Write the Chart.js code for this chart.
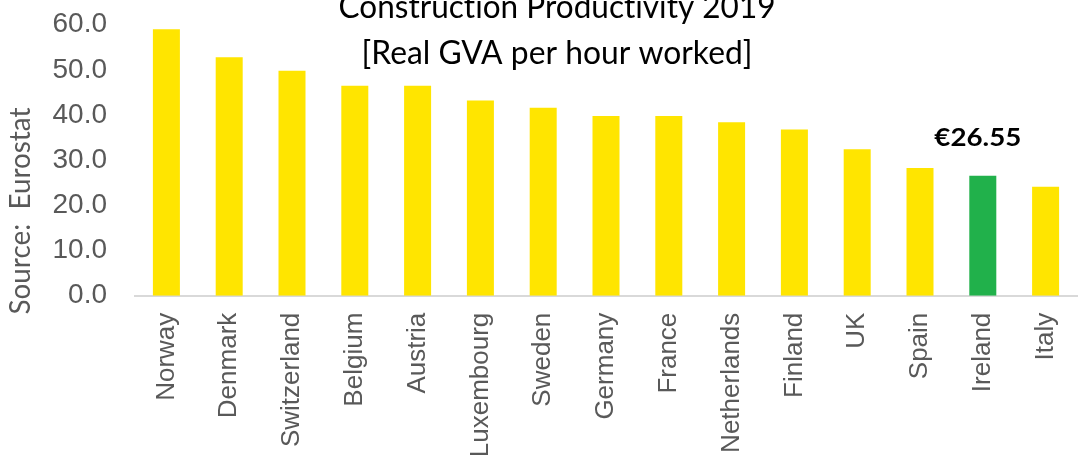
<!DOCTYPE html>
<html>
<head>
<meta charset="utf-8">
<script src="https://cdn.jsdelivr.net/npm/chart.js@4"></script>
<style>
  html, body { margin: 0; padding: 0; background: #ffffff; }
  #wrap { width: 1088px; height: 462px; position: relative; overflow: hidden; }
</style>
</head>
<body>
<div id="wrap"><canvas id="c" width="1088" height="462"></canvas></div>
<script>
// ---- data ----
const categories = ["Norway","Denmark","Switzerland","Belgium","Austria","Luxembourg","Sweden","Germany","France","Netherlands","Finland","UK","Spain","Ireland","Italy"];
const productivity = [59.0, 52.8, 49.8, 46.5, 46.5, 43.2, 41.6, 39.8, 39.8, 38.4, 36.8, 32.4, 28.3, 26.55, 24.1];
const highlightCategory = "Ireland";
const highlightLabel = "€26.55";
const yTickValues = [0, 10, 20, 30, 40, 50, 60];
const titleLines = ["Construction Productivity 2019", "[Real GVA per hour worked]"];
const yAxisTitle = "Source:  Eurostat";

// ---- styles ----
const YELLOW = "#FFE500";
const GREEN = "#21B14B";
const GREY_TEXT = "#595959";
const HUMANIST = "Lato, 'Open Sans', 'Noto Sans', sans-serif";

// draw text at a given font size, horizontally scaled to a target width
function drawFitted(ctx, text, weight, size, family, targetWidth, x, y) {
  ctx.font = weight + " " + size + "px " + family;
  try { ctx.letterSpacing = "0.01px"; } catch (e) {}
  const w = ctx.measureText(text).width;
  const sx = targetWidth / w;
  ctx.save();
  ctx.translate(x, y);
  ctx.scale(sx, 1);
  ctx.fillText(text, 0, 0);
  ctx.restore();
}

const annotationsPlugin = {
  id: "annotations",
  afterDraw(chart) {
    const ctx = chart.ctx;
    ctx.save();
    // Title
    ctx.fillStyle = "#000000";
    ctx.textAlign = "center";
    ctx.textBaseline = "alphabetic";
    drawFitted(ctx, titleLines[0], "400", 33, HUMANIST, 437, 557, 18);
    drawFitted(ctx, titleLines[1], "400", 33, HUMANIST, 391, 557, 64);

    // Y axis title (rotated)
    ctx.save();
    ctx.translate(30, 211);
    ctx.rotate(-Math.PI / 2);
    ctx.fillStyle = GREY_TEXT;
    drawFitted(ctx, yAxisTitle, "400", 28, HUMANIST, 207, 0, 0);
    ctx.restore();

    // Highlight data label
    const idx = categories.indexOf(highlightCategory);
    const el = chart.getDatasetMeta(0).data[idx];
    if (el) {
      ctx.fillStyle = "#000000";
      drawFitted(ctx, highlightLabel, "700", 24, HUMANIST, 87, el.x - 5, el.y - 30);
    }
    ctx.restore();
  }
};

new Chart(document.getElementById("c"), {
  type: "bar",
  data: {
    labels: categories,
    datasets: [{
      data: productivity,
      backgroundColor: categories.map(c => c === highlightCategory ? GREEN : YELLOW),
      borderWidth: 0,
      categoryPercentage: 1.0,
      barPercentage: 0.43
    }]
  },
  options: {
    responsive: false,
    animation: false,
    devicePixelRatio: 1,
    layout: { padding: { top: 24.7, right: 11, bottom: 0, left: 0 } },
    plugins: {
      legend: { display: false },
      title: { display: false },
      tooltip: { enabled: false }
    },
    scales: {
      x: {
        grid: { display: false, drawTicks: false },
        border: { display: true, color: "#D9D9D9", width: 2 },
        ticks: {
          color: GREY_TEXT,
          font: { family: "'Liberation Sans', Arial, sans-serif", size: 26 },
          minRotation: 90,
          maxRotation: 90,
          autoSkip: false,
          padding: 17
        },
        afterFit(scale) {
          scale.height = 166.3;
          scale.paddingLeft = 0; scale.paddingRight = 0;
          scale.paddingTop = 0; scale.paddingBottom = 0;
        }
      },
      y: {
        min: 0,
        max: 60,
        grid: { display: false, drawTicks: false },
        border: { display: false },
        afterBuildTicks(scale) { scale.ticks = yTickValues.map(v => ({ value: v })); },
        ticks: {
          color: GREY_TEXT,
          font: { family: "'Liberation Sans', Arial, sans-serif", size: 28 },
          padding: 28,
          callback: v => Number(v).toFixed(1)
        },
        afterFit(scale) {
          scale.width = 135;
          scale.paddingTop = 0; scale.paddingBottom = 0;
          scale.paddingLeft = 0; scale.paddingRight = 0;
        }
      }
    }
  },
  plugins: [annotationsPlugin]
});
</script>
</body>
</html>
